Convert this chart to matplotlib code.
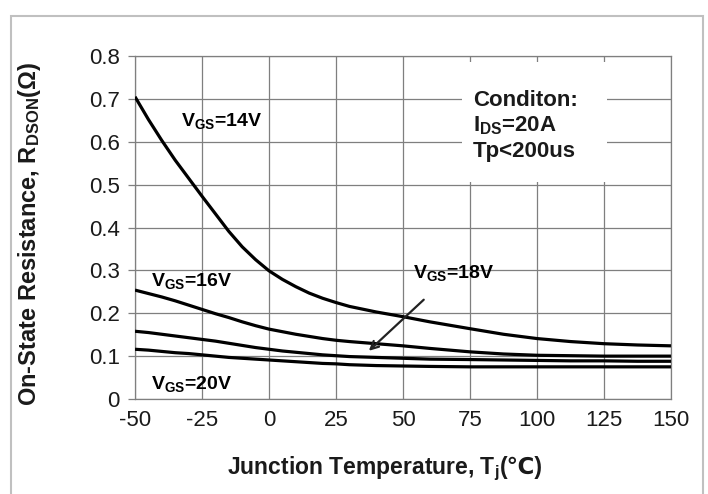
import matplotlib
matplotlib.use("Agg")
import matplotlib.pyplot as plt
from matplotlib.patches import Rectangle

plt.rcParams['font.family'] = ['Liberation Sans', 'DejaVu Sans']
plt.rcParams['mathtext.fontset'] = 'custom'
plt.rcParams['mathtext.rm'] = 'Liberation Sans:bold'
plt.rcParams['mathtext.it'] = 'Liberation Sans:bold'
plt.rcParams['mathtext.bf'] = 'Liberation Sans:bold'
plt.rcParams['axes.unicode_minus'] = False

# junction temperature (C) and Rdson (ohm)
temp = [-50, -45, -40, -35, -30, -25, -20, -15, -10, -5, 0, 5, 10, 15, 20, 25, 30, 40, 50,
        60, 75, 87.5, 100, 112.5, 125, 137.5, 150]
r_14v = [0.705, 0.652, 0.603, 0.557, 0.515, 0.473, 0.432, 0.391, 0.355, 0.325, 0.299, 0.279, 0.262,
         0.247, 0.235, 0.225, 0.216, 0.203, 0.192, 0.180, 0.164, 0.151, 0.141, 0.134, 0.129, 0.126, 0.124]
r_16v = [0.254, 0.246, 0.238, 0.229, 0.219, 0.209, 0.199, 0.190, 0.180, 0.171, 0.163, 0.157, 0.151,
         0.146, 0.141, 0.137, 0.134, 0.129, 0.124, 0.118, 0.110, 0.105, 0.102, 0.101, 0.100, 0.100, 0.100]
r_18v = [0.158, 0.155, 0.151, 0.147, 0.143, 0.139, 0.135, 0.130, 0.125, 0.120, 0.116, 0.112, 0.109,
         0.106, 0.103, 0.101, 0.099, 0.097, 0.095, 0.093, 0.092, 0.091, 0.090, 0.089, 0.089, 0.088, 0.088]
r_20v = [0.116, 0.114, 0.111, 0.108, 0.106, 0.103, 0.100, 0.097, 0.095, 0.093, 0.091, 0.089, 0.087,
         0.085, 0.083, 0.082, 0.080, 0.078, 0.077, 0.076, 0.075, 0.075, 0.075, 0.075, 0.075, 0.075, 0.075]

xticks = [-50, -25, 0, 25, 50, 75, 100, 125, 150]
yticks = [0, 0.1, 0.2, 0.3, 0.4, 0.5, 0.6, 0.7, 0.8]
yticklabels = ["0", "0.1", "0.2", "0.3", "0.4", "0.5", "0.6", "0.7", "0.8"]

fig = plt.figure(figsize=(7.08, 4.94), dpi=100)
ax = fig.add_axes([0.1907, 0.1923, 0.757, 0.6943])

# outer frame round the whole picture
fig.patches.append(Rectangle((11 / 708, -3 / 494), 692 / 708, 481 / 494, transform=fig.transFigure,
                             fill=False, edgecolor="#c0c0c0", linewidth=1.5))

gray = "#7f7f7f"
for r in [r_14v, r_16v, r_18v, r_20v]:
    ax.plot(temp, r, color="black", linewidth=2.3, zorder=3, solid_capstyle="butt")

ax.set_xlim(-50, 150)
ax.set_ylim(0, 0.8)
ax.set_xticks(xticks)
ax.set_yticks(yticks)
ax.set_yticklabels(yticklabels)
ax.grid(True, color=gray, linewidth=0.9)
ax.set_axisbelow(True)
for s in ax.spines.values():
    s.set_color(gray)
    s.set_linewidth(0.9)
ax.tick_params(axis="both", colors=gray, labelcolor="#1a1a1a", labelsize=16, length=5, width=0.9)
ax.tick_params(axis="x", length=0, pad=8)
ax.tick_params(axis="y", pad=6)

# white box for the test conditions
ax.add_patch(Rectangle((72, 0.505), 54, 0.28, facecolor="white", edgecolor="none", zorder=2))
ax.text(76, 0.72, "Conditon:\nI$_{DS}$=20A\nTp<200us", fontsize=16, fontweight="bold",
        va="top", ha="left", zorder=4, linespacing=1.2, color="#1a1a1a")

ax.text(-17.5, 0.648, "V$_{GS}$=14V", fontsize=14, fontweight="bold", ha="center", va="center")
ax.text(-29, 0.276, "V$_{GS}$=16V", fontsize=14, fontweight="bold", ha="center", va="center")
ax.text(-29, 0.036, "V$_{GS}$=20V", fontsize=14, fontweight="bold", ha="center", va="center")
ax.text(69, 0.294, "V$_{GS}$=18V", fontsize=14, fontweight="bold", ha="center", va="center", zorder=4)
ax.annotate("", xy=(36.5, 0.108), xytext=(58.5, 0.236),
            arrowprops=dict(arrowstyle="->", color="#222222", lw=1.6, mutation_scale=14), zorder=4)

# x label in two pieces so the degree sign can come from DejaVu
xl = ax.text(0.172, -0.219, "Junction Temperature, T$_j$", transform=ax.transAxes,
             fontsize=16.5, fontweight="bold", ha="left", va="baseline", color="#1a1a1a")
ax.annotate("(℃)", xy=(1, -0.219), xycoords=(xl, "axes fraction"), fontsize=16.5,
            fontweight="bold", ha="left", va="baseline", color="#1a1a1a")

ax.set_ylabel("On-State Resistance, R$_{DSON}$(Ω)", fontsize=17, fontweight="bold", color="#1a1a1a")
ax.yaxis.set_label_coords(-0.172, 0.481)

fig.savefig("out.png", dpi=100)
